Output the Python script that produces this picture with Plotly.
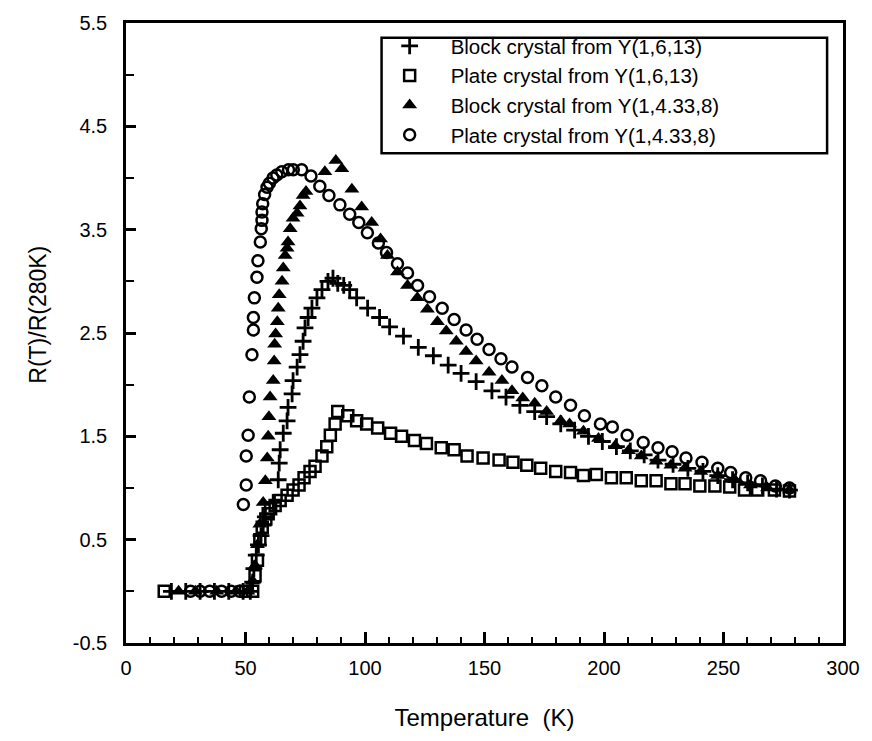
import plotly.graph_objects as go

# Block crystal from Y(1,6,13)  (+)
T_plus = [19, 25, 31, 37, 43, 49, 52, 53, 53.5, 54.5, 55.4, 56.5, 57.4, 58.3, 61.6, 63.7, 64.1, 64.5, 65.8, 67.4,
          67.8, 69.5, 69.9, 71.6, 72.8, 74.1, 74.9, 76.2, 77.8, 79.9, 82, 84.5, 86.6, 88.6, 91.1, 93.6, 96.5, 101.1,
          106.1, 110.3, 116.1, 122.3, 128.6, 134.8, 140.2, 146.5, 153.1, 159, 164.8, 171, 176, 181.9, 187.7, 193.5,
          199.3, 205.2, 211, 216.8, 222.6, 228.9, 235.1, 241.4, 247.6, 253.8, 260.1, 266.3, 272.2, 277.6]
R_plus = [0, 0, 0, 0, 0, 0, 0, 0.09, 0.22, 0.35, 0.45, 0.54, 0.64, 0.72, 0.86, 1.08, 1.24, 1.37, 1.53, 1.65,
          1.78, 1.91, 2.04, 2.17, 2.29, 2.42, 2.55, 2.65, 2.74, 2.84, 2.92, 3.0, 3.03, 2.98, 2.96, 2.92, 2.84, 2.74,
          2.65, 2.56, 2.47, 2.36, 2.28, 2.19, 2.11, 2.03, 1.94, 1.88, 1.80, 1.74, 1.69, 1.62, 1.56, 1.50,
          1.45, 1.40, 1.36, 1.32, 1.27, 1.23, 1.19, 1.16, 1.12, 1.08, 1.05, 1.02, 0.99, 0.98]

# Plate crystal from Y(1,6,13)  (open square)
T_sq = [16, 50, 53, 54, 55, 56, 57, 58.5, 59.5, 60.5, 62.4, 64.5, 67.4, 69.9, 72.4, 74.5, 77, 79.1, 82, 84,
        85.5, 87.5, 88.6, 92.8, 96.5, 100.7, 105.3, 110.7, 115.3, 120.7, 125.7, 131.9, 137.3, 142.7, 149.4, 156.1,
        161.9, 167.7, 173.5, 179.8, 186, 191.4, 196.8, 203.1, 209.3, 215.6, 221.8, 228, 233.9, 240.1, 246.4,
        252.6, 258.8, 264.3, 271.3, 277.6]
R_sq = [0, 0, 0, 0.15, 0.3, 0.5, 0.62, 0.7, 0.75, 0.8, 0.83, 0.88, 0.93, 0.98, 1.03, 1.10, 1.16, 1.21, 1.31, 1.40,
        1.51, 1.62, 1.74, 1.70, 1.65, 1.62, 1.58, 1.53, 1.50, 1.46, 1.43, 1.39, 1.37, 1.31, 1.29, 1.27,
        1.25, 1.22, 1.19, 1.16, 1.15, 1.12, 1.13, 1.10, 1.10, 1.07, 1.07, 1.04, 1.04, 1.02, 1.02,
        1.01, 0.98, 0.98, 0.98, 0.97]

# Block crystal from Y(1,4.33,8)  (filled triangle)
T_tri = [22, 29, 38, 46, 51, 53, 54, 55, 56, 57.4, 58.3, 59.1, 59.5, 59.8, 60.3, 61.6, 62, 62.2, 62.6, 63.3,
         63.7, 64.1, 65.3, 65.8, 66.6, 67.4, 67.8, 68.7, 69.9, 71.6, 72.8, 74.1, 75.3, 83.2, 87.8, 90.3, 94.5,
         98.6, 102.8, 106.5, 109.4, 113.6, 117.8, 121.9, 126.1, 130.3, 134, 138.2, 142.3, 146.5, 151.9, 157.3,
         161.5, 166, 171, 176, 181.9, 185.6, 191.4, 197.7, 204.7, 210.2, 215.6, 221.8, 228, 233.9, 240.5, 247.6,
         254.7, 261.3, 268.4, 277.6]
R_tri = [0, 0, 0, 0, 0, 0.1, 0.25, 0.45, 0.65, 0.86, 1.07, 1.29, 1.50, 1.69, 1.88, 2.04, 2.23, 2.39, 2.49, 2.61,
         2.74, 2.87, 3.0, 3.13, 3.25, 3.32, 3.38, 3.51, 3.61, 3.66, 3.73, 3.83, 3.87, 4.06, 4.17, 4.09, 3.89,
         3.72, 3.57, 3.41, 3.25, 3.09, 2.96, 2.84, 2.73, 2.61, 2.52, 2.42, 2.32, 2.23, 2.12, 2.04,
         1.94, 1.87, 1.82, 1.74, 1.65, 1.62, 1.55, 1.48, 1.41, 1.36, 1.31, 1.26, 1.22, 1.19, 1.16, 1.12,
         1.08, 1.03, 1.0, 0.98]

# Plate crystal from Y(1,4.33,8)  (open circle)
T_c = [27, 31, 35, 40, 44, 47.5, 49.1, 50.3, 50.3, 51.1, 51.6, 52.7, 53.3, 53.3, 53.7, 54.8, 55.2, 56.2, 56.6, 56.9,
       56.9, 57.2, 58, 59, 60, 61.5, 63.1, 65.2, 68, 70, 73.5, 77.4, 81.1, 84.9, 89.5, 93.6, 97.4, 101, 105.6, 109,
       113.6, 117.8, 122, 127, 132.3, 137.3, 142.3, 146.9, 151.9, 156.9, 161.5, 168, 174, 179.8, 186, 191.8, 198.5,
       203.5, 209.7, 216.4, 222.6, 228.5, 234.3, 241, 247.6, 253, 259.3, 265.5, 271.7, 277.6]
R_c = [0, 0, 0, 0, 0, 0, 0.84, 1.03, 1.31, 1.51, 1.88, 2.29, 2.53, 2.65, 2.84, 3.04, 3.20, 3.38, 3.51, 3.59,
       3.67, 3.75, 3.84, 3.91, 3.95, 4.0, 4.03, 4.06, 4.08, 4.08, 4.08, 4.02, 3.92, 3.83, 3.74, 3.65, 3.57, 3.47, 3.37, 3.28,
       3.17, 3.08, 2.96, 2.85, 2.74, 2.63, 2.53, 2.44, 2.34, 2.25, 2.17, 2.07, 1.99, 1.88, 1.80, 1.70, 1.62,
       1.59, 1.51, 1.44, 1.39, 1.35, 1.29, 1.25, 1.19, 1.15, 1.10, 1.07, 1.02, 1.0]

names = ["Block crystal from Y(1,6,13)", "Plate crystal from Y(1,6,13)",
         "Block crystal from Y(1,4.33,8)", "Plate crystal from Y(1,4.33,8)"]
x_ticks = [0, 50, 100, 150, 200, 250, 300]
y_ticks = [-0.5, 0.5, 1.5, 2.5, 3.5, 4.5, 5.5]

FONT = "Liberation Sans, Arial, Helvetica, sans-serif"

fig = go.Figure()
fig.add_trace(go.Scatter(x=T_plus, y=R_plus, mode="markers", name=names[0],
                         marker=dict(symbol="cross-thin", size=12, color="black",
                                     line=dict(color="black", width=2.8))))
fig.add_trace(go.Scatter(x=T_sq, y=R_sq, mode="markers", name=names[1],
                         marker=dict(symbol="square-open", size=11, color="black",
                                     line=dict(color="black", width=2.5))))
fig.add_trace(go.Scatter(x=T_tri, y=R_tri, mode="markers", name=names[2],
                         marker=dict(symbol="triangle-up", size=13, color="black",
                                     line=dict(color="black", width=0))))
fig.add_trace(go.Scatter(x=T_c, y=R_c, mode="markers", name=names[3],
                         marker=dict(symbol="circle-open", size=11, color="black",
                                     line=dict(color="black", width=2.5))))

L, R, T, B = 126, 25, 15, 98
W, H = 872, 741
pw, ph = W - L - R, H - T - B


def px2x(px):
    return (px - L) / pw


def px2y(py):
    return (H - B - py) / ph


fig.update_layout(
    width=W, height=H,
    margin=dict(l=L, r=R, t=T, b=B),
    paper_bgcolor="white", plot_bgcolor="white",
    font=dict(family=FONT, color="black"),
    showlegend=True,
    legend=dict(x=px2x(370), y=px2y(18), xanchor="left", yanchor="top",
                bgcolor="rgba(0,0,0,0)", borderwidth=0, itemwidth=72,
                font=dict(size=20.5, family=FONT, color="black")),
    shapes=[dict(type="rect", xref="paper", yref="paper",
                 x0=px2x(383), x1=px2x(831), y0=px2y(147), y1=px2y(30),
                 line=dict(color="black", width=2.5), fillcolor="white", layer="below")],
    annotations=[dict(text="R(T)/R(280K)", xref="paper", yref="paper",
                      x=px2x(38), y=px2y(310), showarrow=False, textangle=-90,
                      xanchor="center", yanchor="middle",
                      font=dict(size=23, family=FONT, color="black"))],
)

fig.update_xaxes(range=[0, 300], tickvals=x_ticks, ticktext=[str(v) for v in x_ticks],
                 ticks="inside", ticklen=11, tickwidth=2.5, tickcolor="black",
                 minor=dict(dtick=10, tick0=0, ticks="inside", ticklen=6, tickwidth=2, tickcolor="black"),
                 showline=True, linecolor="black", linewidth=2.5, mirror=True,
                 showgrid=False, zeroline=False,
                 tickfont=dict(size=20, family=FONT, color="black"),
                 ticklabelstandoff=5,
                 title=dict(text="Temperature&nbsp; (K)", standoff=32,
                            font=dict(size=24, family=FONT, color="black")))
fig.update_yaxes(range=[-0.5, 5.5], tickvals=y_ticks, ticktext=[str(v) for v in y_ticks],
                 ticks="inside", ticklen=10, tickwidth=2.5, tickcolor="black",
                 minor=dict(dtick=0.5, tick0=-0.5, ticks="inside", ticklen=8, tickwidth=2, tickcolor="black"),
                 showline=True, linecolor="black", linewidth=2.5, mirror=True,
                 showgrid=False, zeroline=False,
                 tickfont=dict(size=20, family=FONT, color="black"),
                 ticklabelstandoff=12)

fig.write_html("out.html")
